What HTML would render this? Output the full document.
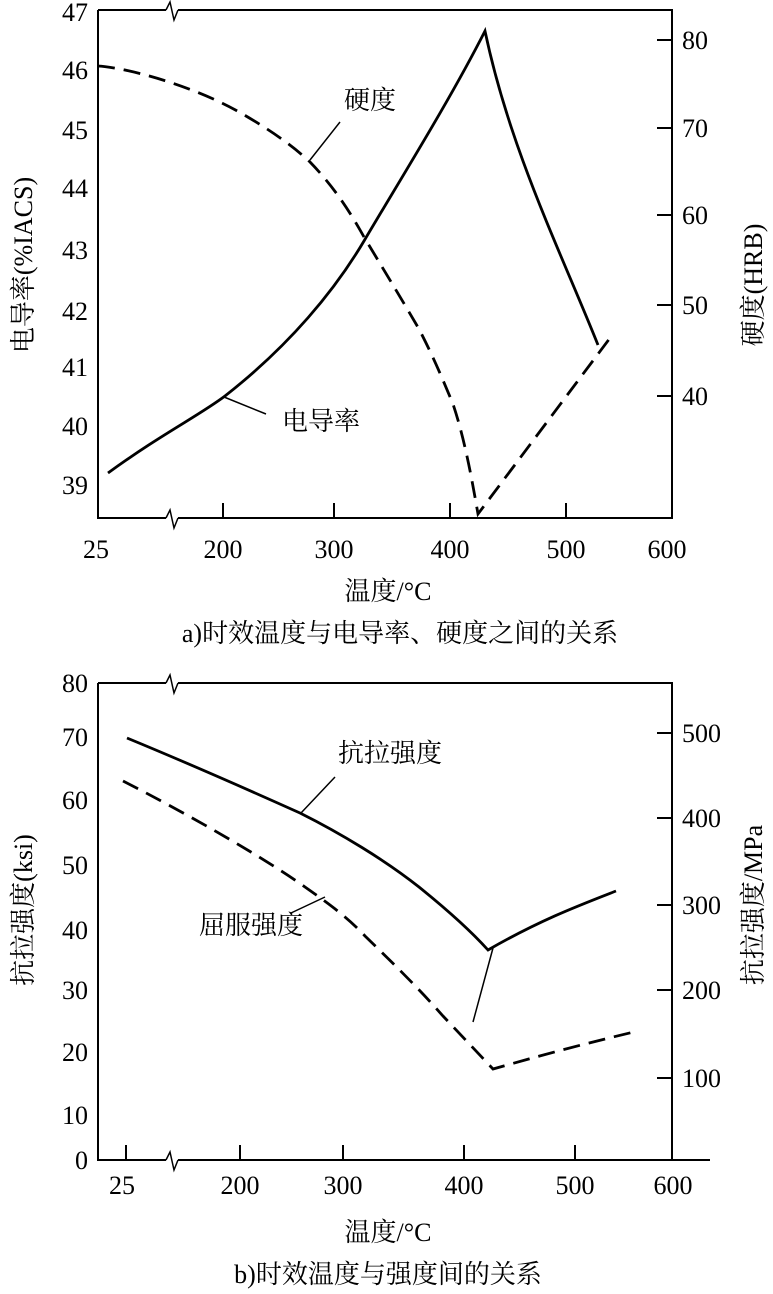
<!DOCTYPE html>
<html><head><meta charset="utf-8"><style>
body{margin:0;background:#fff}
svg text{font-family:"Liberation Serif","Noto Serif CJK SC",serif;fill:#000}
</style></head><body>
<svg width="773" height="1289" viewBox="0 0 773 1289" xmlns="http://www.w3.org/2000/svg">
<g fill="none" stroke="#000" stroke-width="2">
<path d="M98 10H166 M178 10H672V518H178 M166 518H98V10"/>
<path d="M166 10 L170 2 L174 20 L178 10 M166 518 L170 510 L174 528 L178 518" stroke-width="1.5"/>
<path d="M223 518v-15 M334 518v-15 M450 518v-15 M566 518v-15"/>
<path d="M672 40h-15 M672 128h-15 M672 215h-15 M672 305h-15 M672 396h-15"/>
<path d="M108 473 C160 435 200 415 225 396 C290 345 335 290 364 241 C400 180 450 100 485 31 C510 150 560 250 598 345" stroke-width="2.8"/>
<path d="M98 66 C130 68 200 88 246 116 C275 133 295 148 310 162 C335 188 350 212 364 237 C390 280 405 305 419 329 C435 360 445 385 453 404 C465 440 472 480 478 514 L610 338" stroke-width="2.8" stroke-dasharray="17,9"/>
<path d="M310 160 L340 122 M224 397 L266 414" stroke-width="1.5"/>
<path d="M98 683H166 M178 683H672V1160 M710 1160H178 M166 1160H98V683"/>
<path d="M166 683 L170 675 L174 693 L178 683 M166 1160 L170 1152 L174 1170 L178 1160" stroke-width="1.5"/>
<path d="M126 1160v-15 M240 1160v-15 M343 1160v-15 M464 1160v-15 M575 1160v-15"/>
<path d="M672 733h-15 M672 818h-15 M672 905h-15 M672 990h-15 M672 1078h-15"/>
<path d="M127 738 C190 764 260 795 300 813 C340 833 385 860 419 887 C445 908 470 930 488 950 C540 920 580 905 616 891" stroke-width="2.8"/>
<path d="M123 781 C180 810 260 855 305 887 C335 908 350 920 365 936 C400 970 420 990 443 1016 L493 1069 C560 1050 600 1040 638 1031" stroke-width="2.8" stroke-dasharray="17,9"/>
<path d="M301 813 L335 777 M291 913 L325 897 M493 948 L473 1022" stroke-width="1.5"/>
</g>
<g font-size="26" text-anchor="end">
<text x="88" y="21">47</text><text x="88" y="79">46</text><text x="88" y="139">45</text><text x="88" y="197">44</text><text x="88" y="259">43</text><text x="88" y="320">42</text><text x="88" y="376">41</text><text x="88" y="435">40</text><text x="88" y="494">39</text>
<text x="88" y="692">80</text><text x="88" y="746">70</text><text x="88" y="809">60</text><text x="88" y="874">50</text><text x="88" y="939">40</text><text x="88" y="999">30</text><text x="88" y="1061">20</text><text x="88" y="1124">10</text><text x="88" y="1169">0</text>
</g>
<g font-size="26" text-anchor="start">
<text x="682" y="49">80</text><text x="682" y="137">70</text><text x="682" y="224">60</text><text x="682" y="314">50</text><text x="682" y="405">40</text>
<text x="682" y="742">500</text><text x="682" y="827">400</text><text x="682" y="914">300</text><text x="682" y="999">200</text><text x="682" y="1087">100</text>
</g>
<g font-size="26" text-anchor="middle">
<text x="96" y="558">25</text><text x="223" y="558">200</text><text x="334" y="558">300</text><text x="450" y="558">400</text><text x="566" y="558">500</text><text x="667" y="558">600</text>
<text x="122" y="1194">25</text><text x="240" y="1194">200</text><text x="343" y="1194">300</text><text x="464" y="1194">400</text><text x="575" y="1194">500</text><text x="673" y="1194">600</text>
<text x="388" y="600">温度/°C</text>
<text x="400" y="642">a)时效温度与电导率、硬度之间的关系</text>
<text x="388" y="1241">温度/°C</text>
<text x="388" y="1283">b)时效温度与强度间的关系</text>
<text x="370" y="109">硬度</text>
<text x="321" y="430">电导率</text>
<text x="390" y="762">抗拉强度</text>
<text x="251" y="934">屈服强度</text>
<text transform="translate(32 265) rotate(-90)">电导率(%IACS)</text>
<text transform="translate(762 285) rotate(-90)">硬度(HRB)</text>
<text transform="translate(32 910) rotate(-90)">抗拉强度(ksi)</text>
<text transform="translate(762 905) rotate(-90)">抗拉强度/MPa</text>
</g>
</svg>
</body></html>
